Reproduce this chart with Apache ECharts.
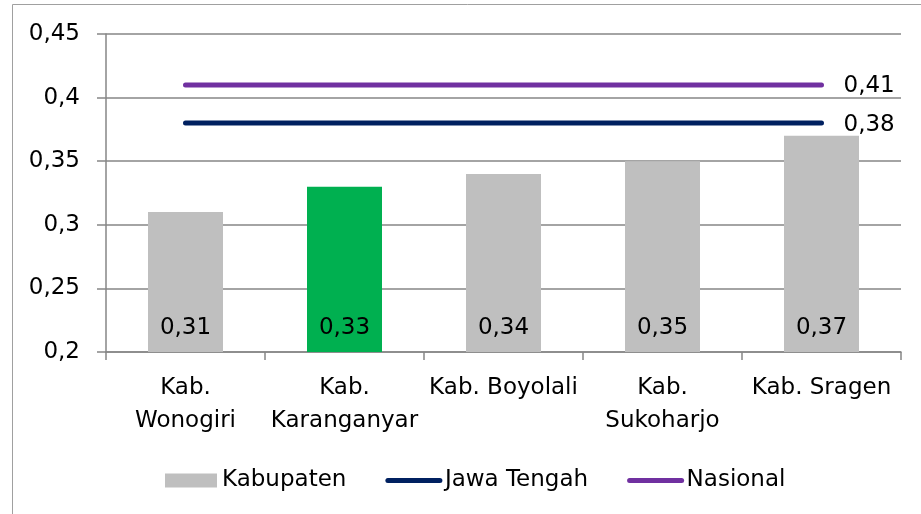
<!DOCTYPE html>
<html>
<head>
<meta charset="utf-8">
<script src="https://cdn.jsdelivr.net/npm/echarts@6/dist/echarts.min.js"></script>
<style>
  html, body { margin: 0; padding: 0; background: #fff; }
  #main { width: 921px; height: 514px; }
</style>
</head>
<body>
<div id="main"></div>
<script>
// data
const categories = ['Kab.\nWonogiri', 'Kab.\nKaranganyar', 'Kab. Boyolali', 'Kab.\nSukoharjo', 'Kab. Sragen']
const kabupaten = [0.31, 0.33, 0.34, 0.35, 0.37]
const jawaTengah = [0.38, 0.38, 0.38, 0.38, 0.38]
const nasional = [0.41, 0.41, 0.41, 0.41, 0.41]
const highlightIndex = 1

const fontFamily = 'DejaVu Sans'
const fs = 23
const fmt = v => String(+Number(v).toFixed(2)).replace('.', ',')

const chart = echarts.init(document.getElementById('main'))

const option = {
  animation: false,
  textStyle: { fontFamily: fontFamily, color: '#000' },
  graphic: [{
    type: 'rect',
    shape: { x: 12.5, y: 4.5, width: 930, height: 530 },
    style: { fill: 'none', stroke: '#a0a0a0', lineWidth: 1 },
    silent: true
  }],
  grid: { left: 106, right: 20, top: 34, bottom: 162 },
  legend: {
    left: 160,
    top: 464,
    itemWidth: 52,
    itemHeight: 14,
    itemGap: 39,
    textStyle: { fontSize: fs, color: '#000', fontFamily: fontFamily },
    data: [
      { name: 'Kabupaten', icon: 'rect', itemStyle: { color: '#bfbfbf' } },
      { name: 'Jawa Tengah', itemStyle: { opacity: 0 }, lineStyle: { width: 5, cap: 'round', color: '#002060' } },
      { name: 'Nasional', itemStyle: { opacity: 0 }, lineStyle: { width: 5, cap: 'round', color: '#7030a0' } }
    ]
  },
  xAxis: {
    type: 'category',
    data: categories,
    axisLine: { lineStyle: { color: '#868686', width: 1.5 } },
    axisTick: { show: true, length: 8, lineStyle: { color: '#868686', width: 1.5 } },
    axisLabel: { fontSize: fs, color: '#000', lineHeight: 33, margin: 20, interval: 0 }
  },
  yAxis: {
    type: 'value',
    min: 0.2,
    max: 0.45,
    interval: 0.05,
    axisLine: { show: true, lineStyle: { color: '#868686', width: 1.5 } },
    axisTick: { show: true, length: 9, lineStyle: { color: '#868686', width: 1.5 } },
    splitLine: { lineStyle: { color: '#868686', width: 1.5 } },
    axisLabel: { fontSize: fs, color: '#000', margin: 26, formatter: fmt }
  },
  series: [
    {
      name: 'Kabupaten',
      type: 'bar',
      barWidth: 75,
      itemStyle: { color: '#bfbfbf' },
      label: {
        show: true,
        position: 'insideBottom',
        distance: 12,
        fontSize: fs,
        color: '#000',
        formatter: p => fmt(p.value)
      },
      data: kabupaten.map((v, i) => i === highlightIndex
        ? { value: v, itemStyle: { color: '#00b050' } }
        : v)
    },
    {
      name: 'Jawa Tengah',
      type: 'line',
      symbol: 'none',
      color: '#002060',
      lineStyle: { color: '#002060', width: 5, cap: 'round' },
      endLabel: { show: true, distance: 22, fontSize: fs, color: '#000', formatter: p => fmt(p.value), offset: [0, 2] },
      data: jawaTengah
    },
    {
      name: 'Nasional',
      type: 'line',
      symbol: 'none',
      color: '#7030a0',
      lineStyle: { color: '#7030a0', width: 5, cap: 'round' },
      endLabel: { show: true, distance: 22, fontSize: fs, color: '#000', formatter: p => fmt(p.value), offset: [0, 1] },
      data: nasional
    }
  ]
}

chart.setOption(option)
</script>
</body>
</html>
